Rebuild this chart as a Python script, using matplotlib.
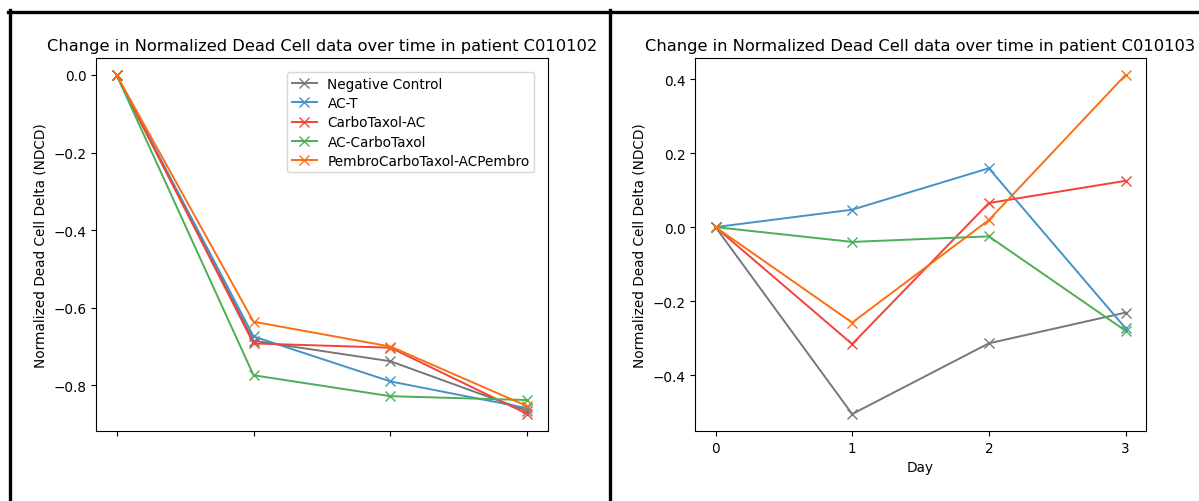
import matplotlib
matplotlib.use("Agg")
import matplotlib.pyplot as plt
from matplotlib.lines import Line2D

days = [0, 1, 2, 3]
series_names = ["Negative Control", "AC-T", "CarboTaxol-AC", "AC-CarboTaxol",
                "PembroCarboTaxol-ACPembro"]
colors = ["#777777", "#4393c9", "#f0433a", "#4cae55", "#fb6f12"]

# Patient C010102
p1_neg = [0.0, -0.685, -0.738, -0.866]
p1_act = [0.0, -0.674, -0.790, -0.859]
p1_cta = [0.0, -0.692, -0.703, -0.874]
p1_acc = [0.0, -0.774, -0.828, -0.838]
p1_pem = [0.0, -0.636, -0.700, -0.854]

# Patient C010103
p2_neg = [0.0, -0.505, -0.314, -0.231]
p2_act = [0.0, 0.047, 0.159, -0.273]
p2_cta = [0.0, -0.316, 0.065, 0.125]
p2_acc = [0.0, -0.040, -0.025, -0.280]
p2_pem = [0.0, -0.258, 0.019, 0.411]

W, H = 1199, 502
fig = plt.figure(figsize=(W / 100, H / 100), dpi=100)

def box(x0, y0, x1, y1):
    return [x0 / W, 1 - y1 / H, (x1 - x0) / W, (y1 - y0) / H]

ax1 = fig.add_axes(box(96, 59, 548, 432))
ax2 = fig.add_axes(box(695, 59, 1146, 432))

for ax, data, title in [
    (ax1, [p1_neg, p1_act, p1_cta, p1_acc, p1_pem], "Change in Normalized Dead Cell data over time in patient C010102"),
    (ax2, [p2_neg, p2_act, p2_cta, p2_acc, p2_pem], "Change in Normalized Dead Cell data over time in patient C010103"),
]:
    for name, vals, c in zip(series_names, data, colors):
        ax.plot(days, vals, marker="x", color=c, label=name, linewidth=1.4, markersize=6.5)
    ax.set_title(title, fontsize=11.7)
    ax.set_ylabel("Normalized Dead Cell Delta (NDCD)", fontsize=9.8)
    ax.tick_params(labelsize=9.8)
    ax.set_xticks(days)

ax1.set_yticks([0.0, -0.2, -0.4, -0.6, -0.8])
ax1.set_xticklabels([])
ax1.legend(loc="upper right", bbox_to_anchor=(0.985, 0.98), fontsize=9.8,
           labelspacing=0.38, handlelength=1.8, borderpad=0.35)

ax2.set_yticks([0.4, 0.2, 0.0, -0.2, -0.4])
ax2.set_xlabel("Day", fontsize=9.8)

# screenshot frame lines
fig.add_artist(Line2D([8 / W, 1], [1 - 12.5 / H, 1 - 12.5 / H], color="black", linewidth=2.4, transform=fig.transFigure))
fig.add_artist(Line2D([9.5 / W, 9.5 / W], [0, 1 - 11 / H], color="black", linewidth=2.4, transform=fig.transFigure))
fig.add_artist(Line2D([609.5 / W, 609.5 / W], [0, 1 - 11 / H], color="black", linewidth=2.4, transform=fig.transFigure))

fig.savefig("out.png", dpi=100)
